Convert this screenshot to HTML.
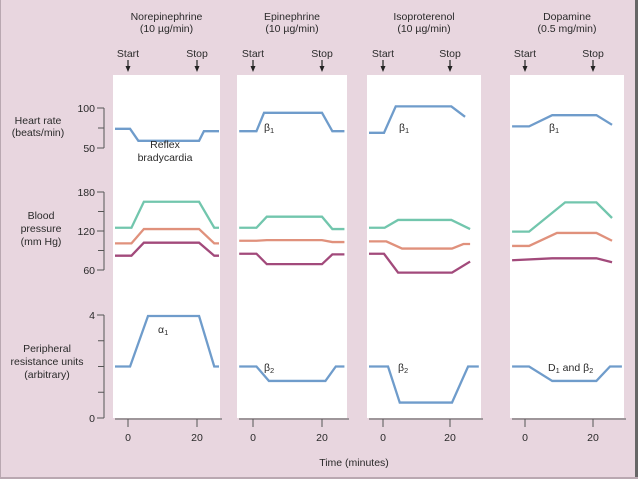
<!DOCTYPE html>
<html><head><meta charset="utf-8"><style>
html,body{margin:0;padding:0;background:#e8d6df;}
svg{display:block;font-family:"Liberation Sans",sans-serif;}
text{fill:#2a2a2a;font-size:10.5px;}
</style></head><body>
<svg id="chart" width="638" height="479" viewBox="0 0 638 479">
<rect x="0" y="0" width="638" height="479" fill="#e8d6df"/>
<rect x="635" y="0" width="3" height="479" fill="#666"/>
<rect x="0" y="0" width="1" height="479" fill="#b9a8b1"/>
<rect x="0" y="477" width="638" height="2" fill="#b9a8b1"/>
<g id="static">
<text x="38" y="124" text-anchor="middle">Heart rate</text>
<text x="38" y="136" text-anchor="middle">(beats/min)</text>
<text x="41" y="219" text-anchor="middle">Blood</text>
<text x="41" y="232" text-anchor="middle">pressure</text>
<text x="41" y="245" text-anchor="middle">(mm Hg)</text>
<text x="47" y="352" text-anchor="middle">Peripheral</text>
<text x="47" y="365" text-anchor="middle">resistance units</text>
<text x="47" y="378" text-anchor="middle">(arbitrary)</text>
<text x="354" y="466" text-anchor="middle">Time (minutes)</text>
</g>
<g id="plot"></g>
</svg>
<script>
// Panels
const drugs = ["Norepinephrine","Epinephrine","Isoproterenol","Dopamine"];
const doses = ["(10 \u00b5g/min)","(10 \u00b5g/min)","(10 \u00b5g/min)","(0.5 mg/min)"];
// Heart rate series [time(min), bpm]
const hrT = [[-4,0.6,3,20.6,22,26.6],[-4,1,3.2,20,23,26.5],[-5,0.3,3.8,20.4,24.5],[-3.8,1.2,8,21,25.6]];
const hrV = [[74,74,59,59,71,71],[71,71,94,94,71,71],[69,69,102,102,89],[77,77,91,91,79]];
// Systolic (teal)
const sysT = [[-4,1,4.6,20.6,25,26.6],[-4,1,4,20,23,26.5],[-5,0.5,4.5,20.4,26],[-3.8,1.2,11.8,21,25.6]];
const sysV = [[125,125,165,165,125,125],[125,125,142,142,123,123],[125,125,137,137,123],[119,119,164,164,140]];
// Mean (orange)
const meanT = [[-4,1,4.6,20.6,25,26.6],[-4,1,4,20,23,26.5],[-5,1,5.7,20.6,24,26],[-3.8,1.2,9.4,21,25.6]];
const meanV = [[101,101,123,123,101,101],[105,105,106,106,103,103],[104,104,93,93,100,100],[97,97,117,117,105]];
// Diastolic (purple)
const diaT = [[-4,1,4.6,20.6,25,26.6],[-4,1,4,20,23,26.5],[-5,0.3,4.5,20.6,26],[-3.8,8,21,25.6]];
const diaV = [[82,82,102,102,82,82],[85,85,69,69,84,84],[85,85,56,56,73],[75,78,78,72]];
// Peripheral resistance (blue)
const prT = [[-4,0.6,5.8,20.6,25,26.6],[-4,1,4.6,21,24,26.5],[-5,1.5,5,20.6,25.4,28.6],[-3.8,1.2,8,21,25,28.5]];
const prV = [[2,2,3.96,3.96,2,2],[2,2,1.44,1.44,2,2],[2,2,0.6,0.6,2,2],[2,2,1.44,1.44,2,2]];
const xTicks = [0,20];
const hrTicks = [100,50], bpTicks = [180,120,60], prTicks = [4,0];
const notes = [
 [["Reflex",-1,148,"m"],["bradycardia",-1,161,"m"],["\u03b11",158,333,"s"]],
 [["\u03b21",264,131,"s"],["\u03b22",264,371,"s"]],
 [["\u03b21",399,131,"s"],["\u03b22",398,371,"s"]],
 [["\u03b21",549,131,"s"],["D1 and \u03b22",548,371,"d"]]
];

const panelL=[113,237,367,510], panelR=[220,347,481,624];
const zeroX=[128,253,383,525], pxPerMin=[3.45,3.45,3.35,3.4];
const NS="http://www.w3.org/2000/svg";
const plot=document.getElementById('plot');
function mk(tag,attrs,parent){const e=document.createElementNS(NS,tag);for(const k in attrs)e.setAttribute(k,attrs[k]);(parent||plot).appendChild(e);return e;}
const yHR=v=>148-(v-50)*0.8;
const yBP=v=>231-(v-120)*0.65;
const yPR=v=>418-v*25.75;

function leftAxis(vals,scale,name,minor){
  const g=mk('g',{});
  
  
  const y0=scale(vals[0]),y1=scale(vals[vals.length-1]);
  mk('line',{x1:104,x2:104,y1:y0,y2:y1,stroke:'#555','stroke-width':1},g);
  vals.forEach(v=>{const y=scale(v);
    mk('line',{x1:97,x2:104,y1:y,y2:y,stroke:'#555','stroke-width':1},g);
    const t=mk('text',{x:95,y:y+4,'text-anchor':'end'},g);t.textContent=v;
    
    });
  minor.forEach(v=>{const y=scale(v);mk('line',{x1:98,x2:104,y1:y,y2:y,stroke:'#555','stroke-width':1},g);});
}
leftAxis(hrTicks,yHR,'heart-rate-axis',[75]);
leftAxis(bpTicks,yBP,'bp-axis',[150,90]);
leftAxis(prTicks,yPR,'pr-axis',[3,2,1]);

for(let p=0;p<4;p++){
  const g=mk('g',{});
  
  
  const cx=(panelL[p]+panelR[p])/2;
  const r=mk('rect',{x:panelL[p],y:75,width:panelR[p]-panelL[p],height:343,fill:'#fff'},g);
  
  
  let t=mk('text',{x:cx,y:20,'text-anchor':'middle'},g);t.textContent=drugs[p];
  
  
  t=mk('text',{x:cx,y:32,'text-anchor':'middle'},g);t.textContent=doses[p];
  
  
  const X=tm=>zeroX[p]+tm*pxPerMin[p];
  [['Start',0],['Stop',20]].forEach(([lab,tm])=>{
    const x=X(tm);
    const s=mk('text',{x:x,y:57,'text-anchor':'middle'},g);s.textContent=lab;
    
    
    mk('line',{x1:x,x2:x,y1:60,y2:69,stroke:'#222','stroke-width':1.2},g);
    mk('path',{d:`M${x-2.5},66 L${x+2.5},66 L${x},72 Z`,fill:'#222'},g);
  });
  const ax=mk('g',{},g);
  
  
  mk('line',{x1:panelL[p]+2,x2:panelR[p]+2,y1:419,y2:419,stroke:'#555','stroke-width':1},ax);
  xTicks.forEach(v=>{const x=X(v);
    mk('line',{x1:x,x2:x,y1:419,y2:427,stroke:'#555','stroke-width':1},ax);
    const tl=mk('text',{x:x,y:441,'text-anchor':'middle'},ax);tl.textContent=v;
    
    });
  const series=[[hrT,hrV,yHR,'#6f9ccb','heart-rate-line'],[sysT,sysV,yBP,'#72c6ad','systolic-line'],
    [meanT,meanV,yBP,'#e0917c','mean-pressure-line'],[diaT,diaV,yBP,'#a24a7b','diastolic-line'],
    [prT,prV,yPR,'#6f9ccb','resistance-line']];
  series.forEach(([T,V,sc,col,nm])=>{
    const pts=T[p].map((tm,i)=>[Math.max(panelL[p]+2,Math.min(panelR[p]-1,X(tm))),sc(V[p][i])]);
    const pl=mk('polyline',{points:pts.map(q=>q.join(',')).join(' '),fill:'none',stroke:col,'stroke-width':2.3,'stroke-linejoin':'miter'},g);
    
    
  });
  notes[p].forEach(([txt,x,y,kind])=>{
    const tx=mk('text',{x:x<0?165:x,y:y,'text-anchor':x<0?'middle':'start'},g);
    if(kind==='s'){tx.textContent=txt[0];const s=mk('tspan',{'font-size':'7.5px',dy:2},tx);s.textContent=txt.slice(1);}
    else if(kind==='d'){tx.textContent='D';let s=mk('tspan',{'font-size':'7.5px',dy:2},tx);s.textContent='1';
      s=mk('tspan',{dy:-2},tx);s.textContent=' and \u03b2';s=mk('tspan',{'font-size':'7.5px',dy:2},tx);s.textContent='2';}
    else tx.textContent=txt;
    
    
  });
}
</script>
</body></html>
